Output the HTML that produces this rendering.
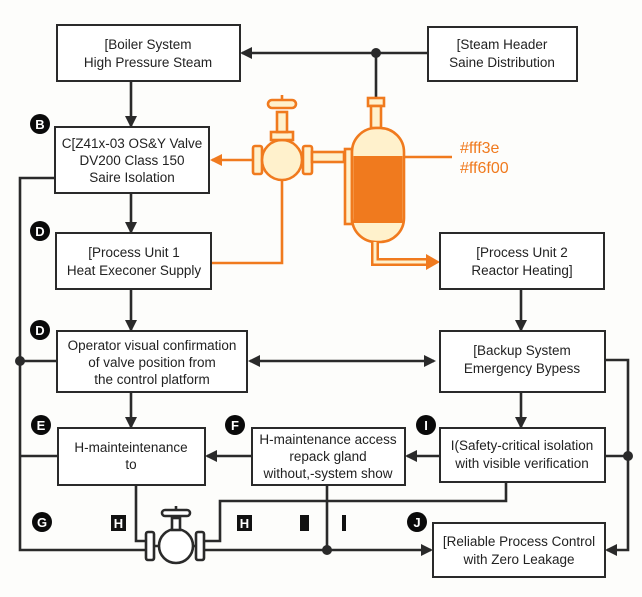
<!DOCTYPE html>
<html><head><meta charset="utf-8"><style>
html,body{margin:0;padding:0;background:#fdfdfb;}
svg{display:block}
text{font-family:"Liberation Sans",Arial,sans-serif;font-size:13.5px;fill:#222;}
.b{fill:#fff;stroke:#2a2a2a;stroke-width:2}
.l{stroke:#2a2a2a;stroke-width:2.6;fill:none}
.o{stroke:#f07a1e;stroke-width:2.6;fill:none}
.c{fill:#0a0a0a}
.ct{fill:#fff;font-weight:bold;font-size:13px}
</style></head><body>
<svg width="642" height="597" viewBox="0 0 642 597">
<defs>
<marker id="a" markerWidth="12" markerHeight="12" refX="10" refY="6" orient="auto" markerUnits="userSpaceOnUse"><path d="M0,0 L12,6 L0,12 z" fill="#2a2a2a"/></marker>
<marker id="as" markerWidth="12" markerHeight="12" refX="2" refY="6" orient="auto" markerUnits="userSpaceOnUse"><path d="M12,0 L0,6 L12,12 z" fill="#2a2a2a"/></marker>
<marker id="ao" markerWidth="12" markerHeight="12" refX="10" refY="6" orient="auto" markerUnits="userSpaceOnUse"><path d="M0,0 L12,6 L0,12 z" fill="#f07a1e"/></marker>
</defs>

<line class="l" x1="428" y1="53" x2="242" y2="53" marker-end="url(#a)"/>
<circle cx="376" cy="53" r="5" fill="#2a2a2a"/>
<line class="l" x1="376" y1="53" x2="376" y2="98"/>
<line class="l" x1="131" y1="81" x2="131" y2="126" marker-end="url(#a)"/>
<line class="l" x1="131" y1="193" x2="131" y2="232" marker-end="url(#a)"/>
<line class="l" x1="131" y1="288" x2="131" y2="330" marker-end="url(#a)"/>
<line class="l" x1="131" y1="392" x2="131" y2="427" marker-end="url(#a)"/>
<polyline class="l" points="55,178 20,178 20,550 145,550"/>
<circle cx="20" cy="361" r="5" fill="#2a2a2a"/>
<line class="l" x1="20" y1="361" x2="58" y2="361"/>
<line class="l" x1="20" y1="456" x2="58" y2="456"/>
<line class="l" x1="250" y1="361" x2="434" y2="361" marker-start="url(#as)" marker-end="url(#a)"/>
<line class="l" x1="521" y1="288" x2="521" y2="330" marker-end="url(#a)"/>
<line class="l" x1="521" y1="392" x2="521" y2="427" marker-end="url(#a)"/>
<polyline class="l" points="604,360 628,360 628,550 607,550" marker-end="url(#a)"/>
<circle cx="628" cy="456" r="5" fill="#2a2a2a"/>
<line class="l" x1="605" y1="456" x2="628" y2="456"/>
<line class="l" x1="440" y1="456" x2="407" y2="456" marker-end="url(#a)"/>
<line class="l" x1="252" y1="456" x2="207" y2="456" marker-end="url(#a)"/>
<line class="l" x1="205" y1="550" x2="431" y2="550" marker-end="url(#a)"/>
<circle cx="327" cy="550" r="5" fill="#2a2a2a"/>
<line class="l" x1="327" y1="485" x2="327" y2="550"/>
<polyline class="l" points="136,485 136,541 147,541"/>
<polyline class="l" points="506,482 506,501 220,501 220,541 205,541"/>

<g stroke="#2a2a2a" stroke-width="2.6" fill="#fff">
<rect x="146" y="532" width="8" height="28" rx="2"/>
<rect x="196" y="532" width="8" height="28" rx="2"/>
<line x1="154" y1="546" x2="196" y2="546"/>
<circle cx="176" cy="546" r="17"/>
<rect x="172" y="518" width="8" height="12"/>
<rect x="162" y="510" width="28" height="6" rx="3"/>
<line x1="176" y1="506" x2="176" y2="510"/>
</g>

<line class="o" x1="252" y1="160" x2="212" y2="160" marker-end="url(#ao)"/>
<polyline class="o" points="282,180 282,263 211,263"/>
<g stroke="#f07a1e" stroke-width="2.6" fill="#fff1cc">
<rect x="253" y="146" width="9" height="28" rx="2"/>
<rect x="303" y="146" width="9" height="28" rx="2"/>
<rect x="312" y="152" width="32" height="10"/>
<circle cx="282" cy="160" r="20"/>
<rect x="271" y="132" width="22" height="8"/>
<rect x="277" y="112" width="10" height="20"/>
<rect x="268" y="100" width="28" height="8" rx="4"/>
<line x1="282" y1="95" x2="282" y2="100"/>
<rect x="368" y="98" width="16" height="8"/>
<rect x="371" y="106" width="10" height="22"/>
<rect x="345" y="149" width="7" height="75"/>
<rect x="352" y="128" width="52" height="114" rx="24"/>
</g>
<rect x="353.5" y="156" width="49" height="67" fill="#f07a1e"/>
<polyline points="375,242 375,262 426,262" fill="none" stroke="#f07a1e" stroke-width="8"/>
<polyline points="375,242 375,262 426,262" fill="none" stroke="#fff1cc" stroke-width="3"/>
<path d="M426,254 L440,262 L426,270 z" fill="#f07a1e"/>
<line class="o" x1="404" y1="157" x2="452" y2="157"/>
<text x="460" y="153" style="fill:#f07a1e;font-size:16px">#fff3e</text>
<text x="460" y="173" style="fill:#f07a1e;font-size:16px">#ff6f00</text>

<rect class="b" x="57" y="25" width="183" height="56"/>
<text x="148" y="49" text-anchor="middle">[Boiler System</text>
<text x="148" y="67" text-anchor="middle">High Pressure Steam</text>
<rect class="b" x="428" y="27" width="149" height="54"/>
<text x="502" y="49" text-anchor="middle">[Steam Header</text>
<text x="502" y="67" text-anchor="middle">Saine Distribution</text>
<rect class="b" x="55" y="127" width="154" height="66"/>
<text x="132" y="148" text-anchor="middle">C[Z41x-03 OS&amp;Y Valve</text>
<text x="132" y="165" text-anchor="middle">DV200 Class 150</text>
<text x="132" y="182" text-anchor="middle">Saire Isolation</text>
<rect class="b" x="56" y="233" width="155" height="56"/>
<text x="134" y="257" text-anchor="middle">[Process Unit 1</text>
<text x="134" y="275" text-anchor="middle">Heat Execoner Supply</text>
<rect class="b" x="440" y="233" width="164" height="56"/>
<text x="522" y="257" text-anchor="middle">[Process Unit 2</text>
<text x="522" y="275" text-anchor="middle">Reactor Heating]</text>
<rect class="b" x="57" y="331" width="190" height="61"/>
<text x="152" y="350" text-anchor="middle">Operator visual confirmation</text>
<text x="152" y="367" text-anchor="middle">of valve position from</text>
<text x="152" y="384" text-anchor="middle">the control platform</text>
<rect class="b" x="440" y="331" width="165" height="61"/>
<text x="522" y="355" text-anchor="middle">[Backup System</text>
<text x="522" y="373" text-anchor="middle">Emergency Bypess</text>
<rect class="b" x="58" y="428" width="147" height="57"/>
<text x="131" y="452" text-anchor="middle">H-mainteintenance</text>
<text x="131" y="469" text-anchor="middle">to</text>
<rect class="b" x="252" y="428" width="153" height="57"/>
<text x="328" y="444" text-anchor="middle">H-maintenance access</text>
<text x="328" y="461" text-anchor="middle">repack gland</text>
<text x="328" y="478" text-anchor="middle">without,-system show</text>
<rect class="b" x="440" y="428" width="165" height="54"/>
<text x="522" y="450" text-anchor="middle">I(Safety-critical isolation</text>
<text x="522" y="468" text-anchor="middle">with visible verification</text>
<rect class="b" x="433" y="523" width="172" height="54"/>
<text x="519" y="546" text-anchor="middle">[Reliable Process Control</text>
<text x="519" y="564" text-anchor="middle">with Zero Leakage</text>

<g>
<circle class="c" cx="40" cy="124" r="10"/><text class="ct" x="40" y="129" text-anchor="middle">B</text>
<circle class="c" cx="40" cy="231" r="10"/><text class="ct" x="40" y="236" text-anchor="middle">D</text>
<circle class="c" cx="40" cy="330" r="10"/><text class="ct" x="40" y="335" text-anchor="middle">D</text>
<circle class="c" cx="41" cy="425" r="10"/><text class="ct" x="41" y="430" text-anchor="middle">E</text>
<circle class="c" cx="235" cy="425" r="10"/><text class="ct" x="235" y="430" text-anchor="middle">F</text>
<circle class="c" cx="426" cy="425" r="10"/><text class="ct" x="426" y="430" text-anchor="middle">I</text>
<circle class="c" cx="42" cy="522" r="10"/><text class="ct" x="42" y="527" text-anchor="middle">G</text>
<circle class="c" cx="417" cy="522" r="10"/><text class="ct" x="417" y="527" text-anchor="middle">J</text>
<rect x="111" y="515" width="15" height="16" fill="#111"/><text class="ct" x="118.5" y="528" text-anchor="middle">H</text>
<rect x="237" y="515" width="15" height="16" fill="#111"/><text class="ct" x="244.5" y="528" text-anchor="middle">H</text>
<rect x="300" y="515" width="9" height="16" fill="#111"/>
<rect x="342" y="515" width="4" height="16" fill="#111"/>
</g>
</svg>
</body></html>
